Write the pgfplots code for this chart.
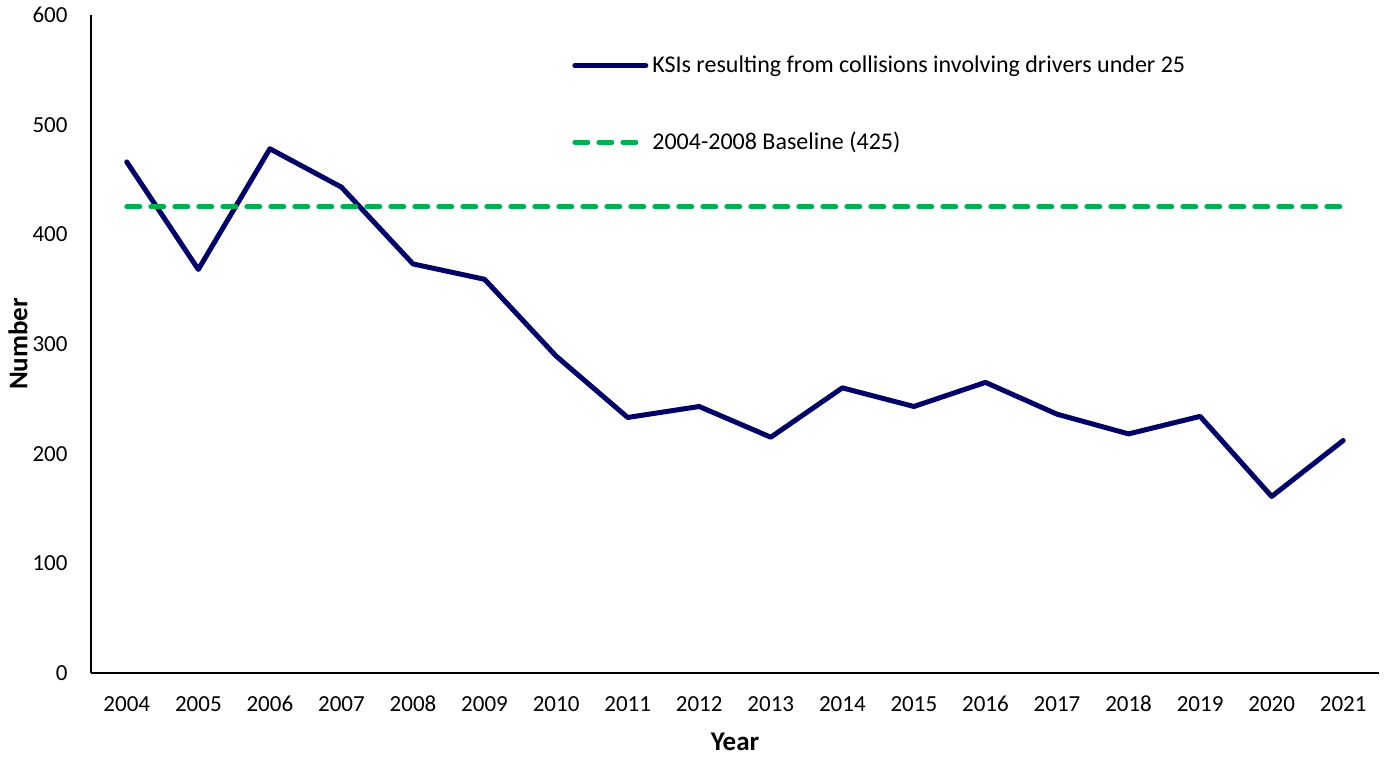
\documentclass[border=0pt]{standalone}
\usepackage{pgfplots}
\pgfplotsset{compat=1.18}
\usepackage{fontspec}
\setmainfont{Carlito}
\definecolor{navy}{RGB}{0,0,102}
\definecolor{kgreen}{RGB}{0,176,80}
\begin{document}
\fontsize{11.5pt}{14pt}\selectfont
\begin{tikzpicture}
\begin{axis}[
  name=ax,
  scale only axis,
  width=644pt, height=329pt,
  xmin=-0.5, xmax=17.5,
  ymin=0, ymax=600,
  axis x line=bottom, axis y line=left,
  axis line style={-, line width=0.75pt, black},
  xtick={0,...,17},
  xticklabels={2004,2005,2006,2007,2008,2009,2010,2011,2012,2013,2014,2015,2016,2017,2018,2019,2020,2021},
  ytick={0,100,...,600},
  major tick length=0pt,
  /pgf/number format/assume math mode=true,
  tick label style={font=\fontsize{11.5pt}{14pt}\selectfont},
  yticklabel style={xshift=-7.7pt},
  xticklabel style={anchor=north, text height=8pt, text depth=0pt, yshift=-7pt},
  xlabel={Year},
  ylabel={Number},
  xlabel style={font=\fontsize{13.5pt}{16pt}\selectfont\bfseries, at={(axis description cs:0.5,0)}, anchor=center, yshift=-34.5pt},
  ylabel style={font=\fontsize{13.5pt}{16pt}\selectfont\bfseries, at={(axis description cs:-0.0567,0.5)}, anchor=center},
  legend style={draw=none, fill=none, at={(rel axis cs:0.3734,0.945)}, anchor=north west, inner sep=0pt,
    font=\fontsize{12pt}{14pt}\selectfont, row sep=24pt, legend cell align=left,
    /tikz/every even column/.append style={column sep=0pt}},
  legend image code/.code={\draw[#1] (0pt,0pt) -- (35.5pt,0pt);},
]
\addplot[navy, line width=2.5pt, line join=round, line cap=round] coordinates {
(0,466) (1,368) (2,478) (3,443) (4,373) (5,359) (6,289) (7,233) (8,243)
(9,215) (10,260) (11,243) (12,265) (13,236) (14,218) (15,234) (16,161) (17,212)
};
\addlegendentry{KSIs resulting from collisions involving drivers under 25}
\addplot[kgreen, line width=2.5pt, line cap=round, dash pattern=on 6.5pt off 5.5pt] coordinates {
(0,425) (17,425)
};
\addlegendentry{2004-2008 Baseline (425)}
\end{axis}
\pgfresetboundingbox
\path ([shift={(-45.5pt,-42pt)}]ax.south west) rectangle ([shift={(4pt,7.5pt)}]ax.north east);
\end{tikzpicture}
\end{document}
